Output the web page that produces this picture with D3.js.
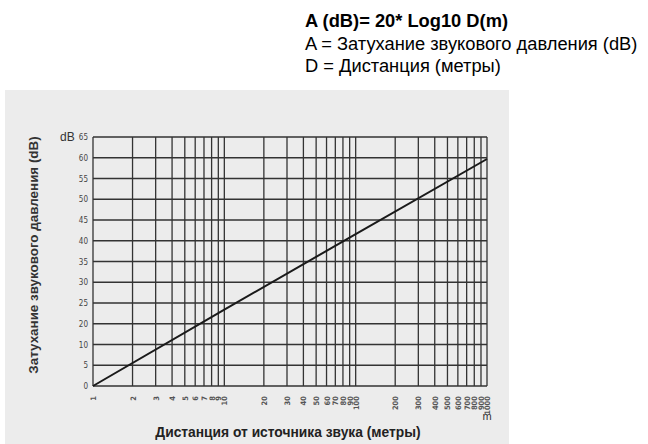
<!DOCTYPE html>
<html><head><meta charset="utf-8">
<script src="https://cdnjs.cloudflare.com/ajax/libs/d3/7.8.5/d3.min.js"></script>
<style>body{margin:0;background:#fff}svg{display:block}</style>
</head><body><svg id="c" width="648" height="444"></svg>
<script>
// Data
const distances = [1, 10, 100, 1000];          // metres
const attenuation = [0, 18.4, 36.6, 54.7];      // dB, on the chart's evenly spaced grid
const xTicks = [1,2,3,4,5,6,7,8,9,10,20,30,40,50,60,70,80,90,100,200,300,400,500,600,700,800,900,1000];
const yTickValues = [0,5,10,15,20,25,30,35,40,45,50,55,60];
const yTickLabels = ["0","5","10","20","25","30","35","40","45","50","55","60","65"];
const titleLines = ["A (dB)= 20* Log10 D(m)", "A = Затухание звукового давления (dB)", "D = Дистанция (метры)"];
const xTitle = "Дистанция от источника звука (метры)";
const yTitle = "Затухание звукового давления (dB)";

const svg = d3.select("#c");
const L = 93, R = 487, T = 137, B = 386;
const x = d3.scaleLog().domain([1, 1000]).range([L, R]);
const y = d3.scaleLinear().domain([0, 60]).range([B, T]);

// grey photo background
svg.append("rect").attr("x", 5).attr("y", 90).attr("width", 504).attr("height", 354).attr("fill", "#ececec");

// title lines
titleLines.forEach((t, i) => {
  svg.append("text").attr("x", 305).attr("y", 27 + i * 22.5)
    .attr("font-family", "Liberation Sans, Arial, sans-serif")
    .attr("font-size", 18.3).attr("font-weight", i === 0 ? "bold" : "normal")
    .attr("fill", "#000").text(t);
});

const g = svg.append("g");
// vertical grid
g.selectAll("line.v").data(xTicks).join("line").attr("class", "v")
  .attr("x1", d => x(d)).attr("x2", d => x(d)).attr("y1", T).attr("y2", B)
  .attr("stroke", "#333").attr("stroke-width", 1.3);
// horizontal grid
g.selectAll("line.h").data(yTickValues).join("line").attr("class", "h")
  .attr("x1", L).attr("x2", R).attr("y1", d => y(d)).attr("y2", d => y(d))
  .attr("stroke", "#333").attr("stroke-width", 1.3);

// y axis labels
const yAxis = d3.axisLeft(y).tickValues(yTickValues).tickSize(0).tickPadding(5)
  .tickFormat((d, i) => yTickLabels[i]);
const ya = svg.append("g").attr("transform", `translate(${L},0)`).call(yAxis);
ya.select(".domain").remove();
ya.selectAll("text").attr("font-family", "DejaVu Sans Condensed, sans-serif").attr("font-size", 8).attr("fill", "#444");
svg.append("text").attr("x", 60).attr("y", 141).attr("font-family", "Liberation Sans, sans-serif")
  .attr("font-size", 12).attr("fill", "#333").text("dB");

// x axis labels rotated
const xa = svg.append("g");
xa.selectAll("text").data(xTicks).join("text")
  .attr("transform", d => `translate(${x(d) + 3},${B + 10}) rotate(-90)`)
  .attr("text-anchor", "end")
  .attr("font-family", "DejaVu Sans Condensed, sans-serif").attr("font-size", 7.5).attr("font-weight", "bold")
  .attr("fill", "#555").text(d => d);
svg.append("text").attr("x", x(1000)).attr("y", 420).attr("text-anchor", "middle")
  .attr("font-family", "Liberation Sans, sans-serif").attr("font-size", 11).attr("fill", "#333").text("m");

// line
const line = d3.line().x((d, i) => x(distances[i])).y(d => y(d));
svg.append("path").datum(attenuation).attr("d", line).attr("fill", "none")
  .attr("stroke", "#1a1a1a").attr("stroke-width", 2);

// axis titles
svg.append("text").attr("x", 288).attr("y", 437).attr("text-anchor", "middle")
  .attr("font-family", "Liberation Sans Narrow, Arial Narrow, sans-serif").attr("font-weight", "bold")
  .attr("font-size", 13.8).attr("fill", "#222").text(xTitle);
svg.append("text").attr("transform", "translate(38,255) rotate(-90)").attr("text-anchor", "middle")
  .attr("font-family", "Liberation Sans Narrow, Arial Narrow, sans-serif").attr("font-weight", "bold")
  .attr("font-size", 13.4).attr("fill", "#333").text(yTitle);
</script></body></html>
